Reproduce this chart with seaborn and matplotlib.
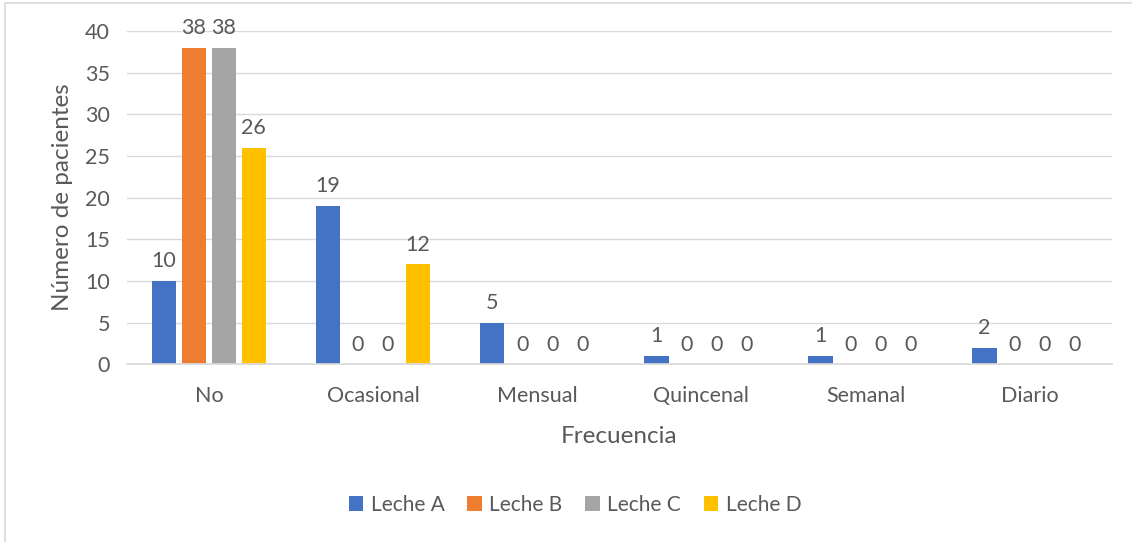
import pandas as pd
import matplotlib.pyplot as plt
import seaborn as sns
from matplotlib.patches import Rectangle

# Data
categories = ["No", "Ocasional", "Mensual", "Quincenal", "Semanal", "Diario"]
leche_a = [10, 19, 5, 1, 1, 2]
leche_b = [38, 0, 0, 0, 0, 0]
leche_c = [38, 0, 0, 0, 0, 0]
leche_d = [26, 12, 0, 0, 0, 0]
series_names = ["Leche A", "Leche B", "Leche C", "Leche D"]
colors = ["#4472C4", "#ED7D31", "#A5A5A5", "#FFC000"]

# Build long-format table for seaborn
rows = []
for name, values in zip(series_names, [leche_a, leche_b, leche_c, leche_d]):
    for cat, v in zip(categories, values):
        rows.append({"Frecuencia": cat, "serie": name, "valor": v})
df = pd.DataFrame(rows)

sns.set_theme(style="white")
plt.rcParams['font.family'] = ['Lato', 'DejaVu Sans']
text_color = "#595959"

fig = plt.figure(figsize=(11.32, 5.42), dpi=100)
ax = fig.add_axes([0.112, 0.328, 0.87, 0.615])

sns.barplot(data=df, x="Frecuencia", y="valor", hue="serie", order=categories,
            hue_order=series_names, palette=colors, width=0.73, gap=0.18,
            saturation=1, linewidth=0, ax=ax)

for container in ax.containers:
    ax.bar_label(container, padding=7, fontsize=15.5, color=text_color)

ax.set_ylim(0, 40)
ax.set_yticks(range(0, 41, 5))
ax.set_xlim(-0.5, len(categories) - 0.5)
ax.yaxis.grid(True, color="#d9d9d9", linewidth=1)
ax.set_axisbelow(True)
for side in ["top", "right", "left"]:
    ax.spines[side].set_visible(False)
ax.spines["bottom"].set_color("#d9d9d9")
ax.tick_params(axis="both", length=0, labelsize=15.5, labelcolor=text_color)
ax.tick_params(axis="x", pad=16)
ax.tick_params(axis="y", pad=12)

ax.set_xlabel("Frecuencia", fontsize=17.5, color=text_color, labelpad=14)
ax.set_ylabel("Número de pacientes", fontsize=17.5, color=text_color, labelpad=9)

ax.legend(loc="center", bbox_to_anchor=(0.508, 1 - 505 / 542),
          bbox_transform=fig.transFigure, ncol=4, frameon=False,
          fontsize=15, labelcolor=text_color, handlelength=0.7, handleheight=0.7,
          handletextpad=0.35, columnspacing=1.1)

# light chart border
fig.patches.append(Rectangle((5 / 1132, -0.1), 1.2, 1 - 3 / 542 + 0.1,
                             transform=fig.transFigure, fill=False,
                             edgecolor="#d9d9d9", linewidth=1.2))

fig.savefig("out.png", dpi=100)
plt.close()
